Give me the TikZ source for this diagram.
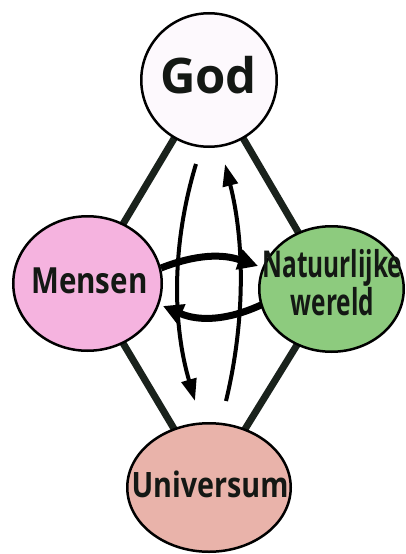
\documentclass[tikz,border=0pt]{standalone}
\usepackage{fontspec}
\newfontfamily\godfont{Open Sans}
\newfontfamily\cfont[FakeStretch=0.82]{Open Sans}
\newfontfamily\nfont[FakeStretch=0.66]{Open Sans}
\usetikzlibrary{shapes.geometric,arrows.meta,backgrounds}
\definecolor{godfill}{RGB}{253,249,253}
\definecolor{menfill}{RGB}{245,179,223}
\definecolor{natfill}{RGB}{141,203,126}
\definecolor{unifill}{RGB}{233,179,170}
\definecolor{linkcol}{RGB}{26,34,28}
\definecolor{txt}{RGB}{20,24,20}
\begin{document}
\begin{tikzpicture}[x=1pt,y=-1pt,
  blob/.style={ellipse,draw=black,line width=2.5pt,inner sep=0pt},
  link/.style={draw=linkcol,line width=7pt},
  flow/.style={draw=black,line width=4pt,-{Triangle[length=22pt,width=15pt]}},
  swap/.style={draw=black,line width=7pt,-{Triangle[length=20pt,width=20pt]}},
  lbl/.style={anchor=base,inner sep=0pt,text=txt,align=center,font=\cfont\bfseries\fontsize{36}{30}\selectfont}
]
\useasboundingbox (0,0) rectangle (406,554);
\node[blob,fill=godfill,minimum width=135.5pt,minimum height=133.5pt] (god) at (209,80) {};
\node[blob,fill=menfill,minimum width=148.5pt,minimum height=134.5pt] (men) at (87.5,283.5) {};
\node[blob,fill=natfill,minimum width=144.5pt,minimum height=125.5pt] (nat) at (331.5,289) {};
\node[blob,fill=unifill,minimum width=163.5pt,minimum height=128.5pt] (uni) at (209,487.5) {};

\begin{scope}[on background layer]
\draw[link] (god.center) -- (men.center);
\draw[link] (god.center) -- (nat.center);
\draw[link] (men.center) -- (uni.center);
\draw[link] (nat.center) -- (uni.center);
\end{scope}

\node[anchor=base,inner sep=0pt,text=txt,font=\godfont\bfseries\fontsize{49}{49}\selectfont] (tgod) at (208.5,93) {God};
\node[lbl] (tmen) at (89.4,293) {Mensen};
\node[lbl,font=\nfont\bfseries\fontsize{37}{30}\selectfont] (tnat) at (332.5,315) {Natuurlijke\\wereld};
\node[lbl,font=\cfont\bfseries\fontsize{35}{30}\selectfont] (tuni) at (210,497) {Universum};

\draw[flow] ([xshift=-13pt,yshift=-16pt]god.south) .. controls (172,243) and (172,322) .. ([xshift=-14pt,yshift=21pt]uni.north);
\draw[flow] ([xshift=17pt,yshift=21pt]uni.north) .. controls (245,322) and (245,243) .. ([xshift=16pt,yshift=-16pt]god.south);
\draw[swap] ([xshift=-2pt,yshift=15.5pt]men.east) to[bend left=20] ([yshift=23pt]nat.west);
\draw[swap] ([xshift=3pt,yshift=-16pt]nat.west) to[bend left=24] ([yshift=-22.5pt]men.east);
\end{tikzpicture}
\end{document}
